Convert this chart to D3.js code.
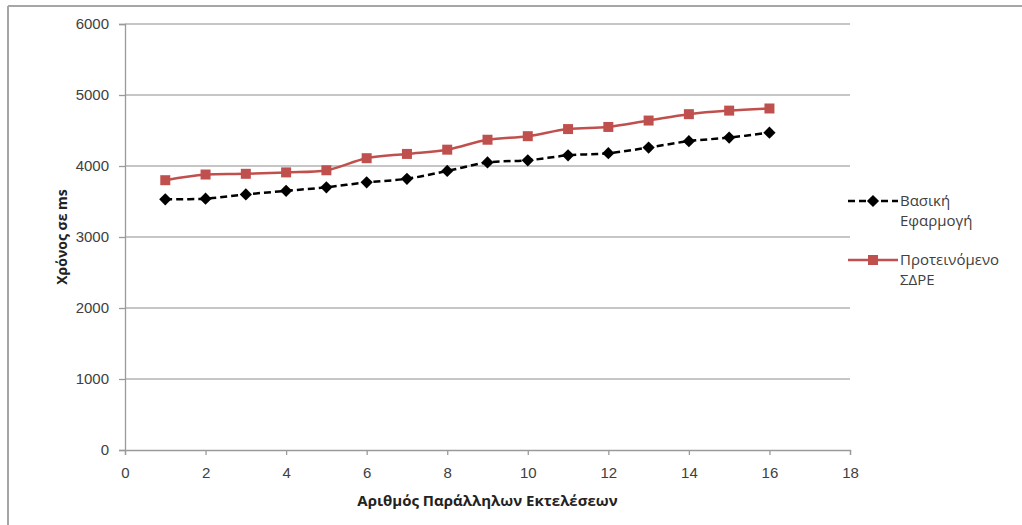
<!DOCTYPE html>
<html>
<head>
<meta charset="utf-8">
<script src="https://cdn.jsdelivr.net/npm/d3@7"></script>
<style>
  body { margin: 0; background: #fff; }
  svg { display: block; font-family: 'Open Sans', 'Noto Sans', sans-serif; }
</style>
</head>
<body>
<div id="chart"></div>
<script>
const xValues = [1, 2, 3, 4, 5, 6, 7, 8, 9, 10, 11, 12, 13, 14, 15, 16];
const basicApp = [3530, 3540, 3600, 3650, 3700, 3770, 3820, 3930, 4050, 4080, 4150, 4180, 4260, 4350, 4400, 4470];
const proposed = [3800, 3880, 3890, 3910, 3940, 4110, 4170, 4230, 4370, 4420, 4520, 4550, 4640, 4730, 4780, 4810];
const xTicks = [0, 2, 4, 6, 8, 10, 12, 14, 16, 18];
const yTicks = [0, 1000, 2000, 3000, 4000, 5000, 6000];
const seriesNames = [['Βασική', 'Εφαρμογή'], ['Προτεινόμενο', 'ΣΔΡΕ']];

const width = 1022;
const height = 525;
const margin = { top: 24, right: 172, bottom: 75, left: 125 };

const svg = d3
  .select('#chart')
  .append('svg')
  .attr('width', width)
  .attr('height', height);

// outer frame (only top and left visible)
svg.append('line')
  .attr('x1', 8).attr('x2', width).attr('y1', 6).attr('y2', 6)
  .attr('stroke', '#a6a6a6').attr('stroke-width', 2);
svg.append('line')
  .attr('x1', 8).attr('x2', 8).attr('y1', 6).attr('y2', height)
  .attr('stroke', '#a6a6a6').attr('stroke-width', 2);

const xScale = d3.scaleLinear().domain([0, 18]).range([margin.left, width - margin.right]);
const yScale = d3.scaleLinear().domain([0, 6000]).range([height - margin.bottom, margin.top]);

// gridlines
svg.append('g')
  .selectAll('line')
  .data(yTicks.filter((d) => d > 0))
  .enter()
  .append('line')
  .attr('x1', xScale(0))
  .attr('x2', xScale(18))
  .attr('y1', (d) => yScale(d))
  .attr('y2', (d) => yScale(d))
  .attr('stroke', '#b3b3b3')
  .attr('stroke-width', 1.3);

// axes
const yAxis = d3.axisLeft(yScale).tickValues(yTicks).tickFormat(d3.format('d')).tickSize(6).tickPadding(10);
const yAxisGroup = svg.append('g')
  .attr('transform', `translate(${xScale(0)},0)`)
  .call(yAxis);

const xAxis = d3.axisBottom(xScale).tickValues(xTicks).tickSize(5).tickPadding(12);
const xAxisGroup = svg.append('g')
  .attr('transform', `translate(0,${yScale(0)})`)
  .call(xAxis);

[xAxisGroup, yAxisGroup].forEach((g) => {
  g.select('.domain').attr('stroke', '#9a9a9a').attr('stroke-width', 1.3);
  g.selectAll('.tick line').attr('stroke', '#9a9a9a').attr('stroke-width', 1.3);
  g.selectAll('.tick text')
    .attr('fill', '#404040')
    .style('font-size', '15px');
});

// axis titles
svg.append('text')
  .attr('transform', `translate(67,${(yScale(0) + yScale(6000)) / 2}) rotate(-90)`)
  .attr('text-anchor', 'middle')
  .style('font-size', '14px')
  .style('font-weight', 'bold')
  .attr('fill', '#222')
  .text('Χρόνος σε ms');

svg.append('text')
  .attr('x', (xScale(0) + xScale(18)) / 2)
  .attr('y', 506)
  .attr('text-anchor', 'middle')
  .style('font-size', '15px')
  .style('font-weight', 'bold')
  .attr('fill', '#222')
  .text('Αριθμός Παράλληλων Εκτελέσεων');

// lines
const line = (vals) =>
  d3.line()
    .x((d, i) => xScale(xValues[i]))
    .y((d) => yScale(d))
    .curve(d3.curveCatmullRom.alpha(0.5))(vals);

svg.append('path')
  .attr('d', line(basicApp))
  .attr('fill', 'none')
  .attr('stroke', '#000')
  .attr('stroke-width', 2.5)
  .attr('stroke-dasharray', '7,4');

svg.append('path')
  .attr('d', line(proposed))
  .attr('fill', 'none')
  .attr('stroke', '#c0504d')
  .attr('stroke-width', 2.5);

const diamond = d3.symbol().type(d3.symbolDiamond2).size(95);
const square = d3.symbol().type(d3.symbolSquare).size(100);

svg.append('g')
  .selectAll('path')
  .data(basicApp)
  .enter()
  .append('path')
  .attr('d', diamond)
  .attr('transform', (d, i) => `translate(${xScale(xValues[i])},${yScale(d)})`)
  .attr('fill', '#000');

svg.append('g')
  .selectAll('path')
  .data(proposed)
  .enter()
  .append('path')
  .attr('d', square)
  .attr('transform', (d, i) => `translate(${xScale(xValues[i])},${yScale(d)})`)
  .attr('fill', '#c0504d');

// legend
const legendItems = [
  { y: 201, color: '#000', dash: '7,4', symbol: diamond },
  { y: 260, color: '#c0504d', dash: null, symbol: square }
];

legendItems.forEach((item, i) => {
  const g = svg.append('g').attr('transform', `translate(848,${item.y})`);
  g.append('line')
    .attr('x1', 0).attr('x2', 50)
    .attr('stroke', item.color)
    .attr('stroke-width', 2.5)
    .attr('stroke-dasharray', item.dash);
  g.append('path')
    .attr('d', item.symbol)
    .attr('transform', 'translate(25,0)')
    .attr('fill', item.color);
  const t = g.append('text')
    .attr('x', 52)
    .attr('y', 5)
    .style('font-size', '15px')
    .attr('fill', '#404040');
  seriesNames[i].forEach((s, j) => {
    t.append('tspan').attr('x', 52).attr('dy', j === 0 ? 0 : 20).text(s);
  });
});
</script>
</body>
</html>
